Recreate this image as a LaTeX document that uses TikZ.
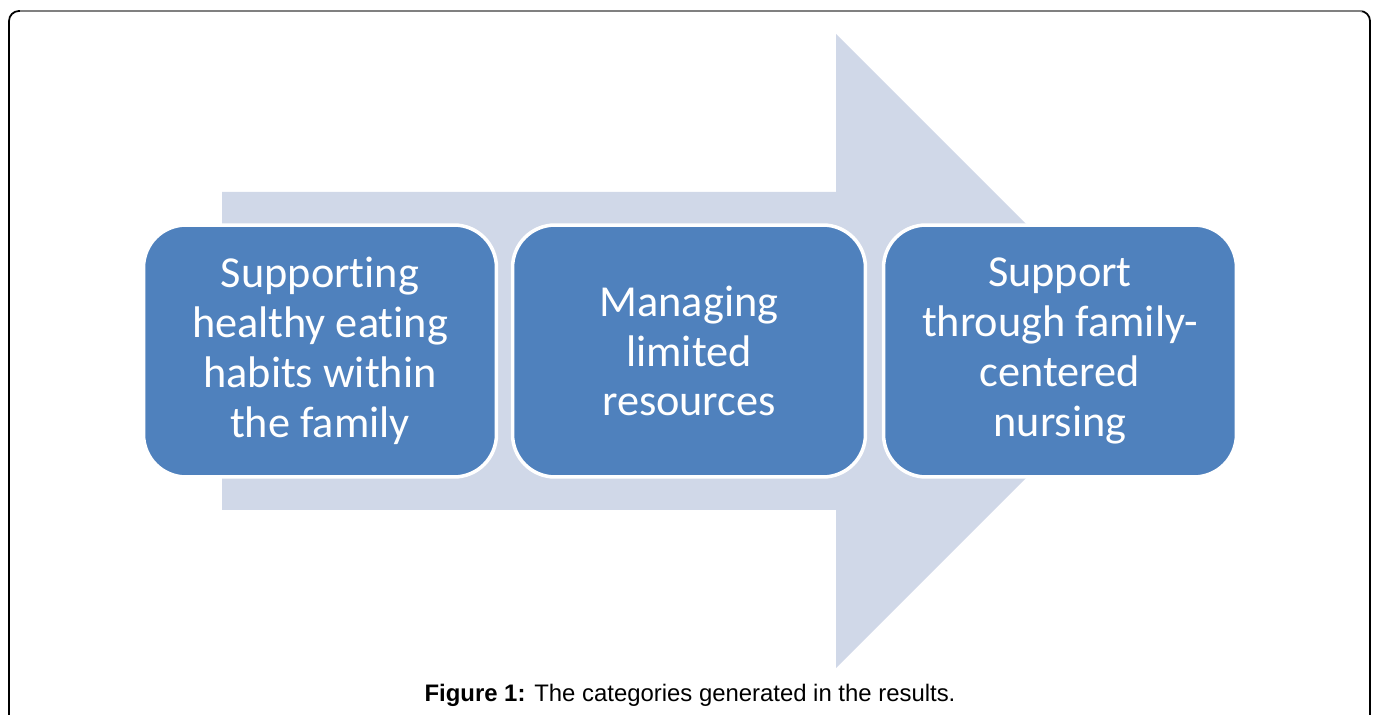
\documentclass[tikz,border=0pt]{standalone}
\usepackage{fontspec}
\setmainfont[Ligatures=NoCommon]{Carlito}
\newfontfamily\captionfont{Liberation Sans}
\usetikzlibrary{positioning}
\definecolor{boxblue}{HTML}{4F81BD}
\definecolor{arrowgray}{HTML}{D0D8E8}

\begin{document}
\begin{tikzpicture}
[x=0.02cm,y=-0.02cm,
category/.style = {draw=white, line width=2pt, fill=boxblue, rounded corners=0.85cm, text=white,
  minimum width=7.06cm, minimum height=5.04cm, align=center,
  font=\fontsize{25.2}{28.4}\selectfont},]
\useasboundingbox (0,0) rectangle (1373,715);

% frame
\begin{scope}
\clip (0,0) rectangle (1373,715);
\draw[line width=1pt, rounded corners=0.2cm] (9,730) -- (9,11) -- (1370,11) -- (1370,730);
\draw[gray, line width=1.4pt] (20,11) -- (1362,11);
\end{scope}

% big arrow in the back
\fill[arrowgray] (222,192) -- (836,192) -- (836,34) -- (1153,351) -- (836,668) -- (836,510) -- (222,510) -- cycle;

\node (A) at (320,351)[category] {Supporting\\healthy eating\\habits within\\the family};
\node (B) at (689,351)[category] {Managing\\limited\\resources};
\node (C) at (1060,351)[category] {Support\\through family-\\centered\\nursing};

\node (cap) at (690,695) {\captionfont\fontsize{13.6}{16}\selectfont\textbf{Figure 1:} The categories generated in the results.};

\end{tikzpicture}
\end{document}
